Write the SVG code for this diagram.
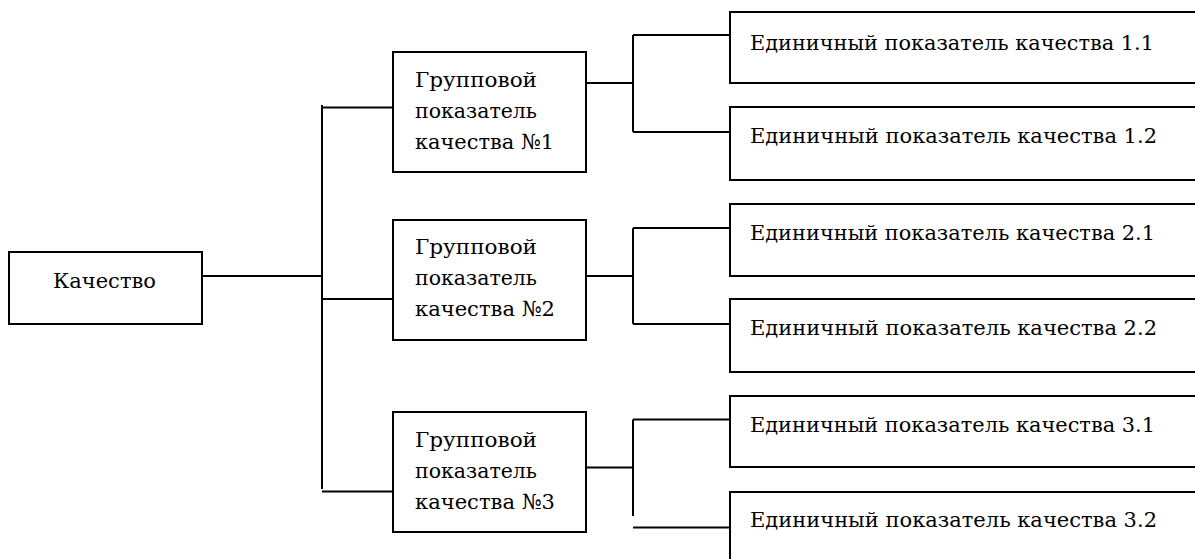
<svg xmlns="http://www.w3.org/2000/svg" width="1195" height="559" viewBox="0 0 1195 559">
<style>
  .box { fill: #fff; stroke: #000; stroke-width: 2; }
  .t { font-family: "DejaVu Serif", "Liberation Serif", serif; font-size: 21px; fill: #000; }
  .c line { stroke: #000; stroke-width: 2; }
</style>
<rect width="1195" height="559" fill="#fff"/>
<g class="c" id="connectors">
  <line x1="202" y1="276" x2="322" y2="276"/>
  <line x1="322" y1="105" x2="322" y2="489"/>
  <line x1="322" y1="107.5" x2="393" y2="107.5"/>
  <line x1="322" y1="299" x2="393" y2="299"/>
  <line x1="322" y1="491.5" x2="393" y2="491.5"/>
  <line x1="586" y1="83" x2="633" y2="83"/>
  <line x1="633" y1="35" x2="633" y2="132"/>
  <line x1="633" y1="35" x2="730" y2="35"/>
  <line x1="633" y1="132" x2="730" y2="132"/>
  <line x1="586" y1="276" x2="633" y2="276"/>
  <line x1="633" y1="228" x2="633" y2="324"/>
  <line x1="633" y1="228" x2="730" y2="228"/>
  <line x1="633" y1="324" x2="730" y2="324"/>
  <line x1="586" y1="467.5" x2="633" y2="467.5"/>
  <line x1="633" y1="419.5" x2="633" y2="516"/>
  <line x1="633" y1="419.5" x2="730" y2="419.5"/>
  <line x1="633" y1="527.5" x2="730" y2="527.5"/>
</g>
<g id="root">
  <rect class="box" x="9" y="252" width="193" height="72"/>
  <text class="t" x="53" y="288" textLength="103" lengthAdjust="spacingAndGlyphs">Качество</text>
</g>
<g id="group1">
  <rect class="box" x="393" y="52" width="193" height="120"/>
  <text class="t" x="415" y="87" textLength="122" lengthAdjust="spacingAndGlyphs">Групповой</text>
  <text class="t" x="415" y="118" textLength="122" lengthAdjust="spacingAndGlyphs">показатель</text>
  <text class="t" x="415" y="149" textLength="139" lengthAdjust="spacingAndGlyphs">качества №1</text>
</g>
<g id="group2">
  <rect class="box" x="393" y="220" width="193" height="120"/>
  <text class="t" x="415" y="254" textLength="122" lengthAdjust="spacingAndGlyphs">Групповой</text>
  <text class="t" x="415" y="285" textLength="122" lengthAdjust="spacingAndGlyphs">показатель</text>
  <text class="t" x="415" y="316" textLength="140" lengthAdjust="spacingAndGlyphs">качества №2</text>
</g>
<g id="group3">
  <rect class="box" x="393" y="412" width="193" height="120"/>
  <text class="t" x="415" y="447" textLength="122" lengthAdjust="spacingAndGlyphs">Групповой</text>
  <text class="t" x="415" y="478" textLength="122" lengthAdjust="spacingAndGlyphs">показатель</text>
  <text class="t" x="415" y="509" textLength="140" lengthAdjust="spacingAndGlyphs">качества №3</text>
</g>
<g id="single11">
  <rect class="box" x="730" y="12" width="480" height="71"/>
  <text class="t" x="750" y="50" textLength="404" lengthAdjust="spacingAndGlyphs">Единичный показатель качества 1.1</text>
</g>
<g id="single12">
  <rect class="box" x="730" y="107" width="480" height="73"/>
  <text class="t" x="750" y="143" textLength="407" lengthAdjust="spacingAndGlyphs">Единичный показатель качества 1.2</text>
</g>
<g id="single21">
  <rect class="box" x="730" y="204" width="480" height="72"/>
  <text class="t" x="750" y="240" textLength="405" lengthAdjust="spacingAndGlyphs">Единичный показатель качества 2.1</text>
</g>
<g id="single22">
  <rect class="box" x="730" y="299" width="480" height="73"/>
  <text class="t" x="750" y="335" textLength="407" lengthAdjust="spacingAndGlyphs">Единичный показатель качества 2.2</text>
</g>
<g id="single31">
  <rect class="box" x="730" y="396" width="480" height="71"/>
  <text class="t" x="750" y="432" textLength="405" lengthAdjust="spacingAndGlyphs">Единичный показатель качества 3.1</text>
</g>
<g id="single32">
  <rect class="box" x="730" y="492" width="480" height="80"/>
  <text class="t" x="750" y="527" textLength="407" lengthAdjust="spacingAndGlyphs">Единичный показатель качества 3.2</text>
</g>
</svg>
